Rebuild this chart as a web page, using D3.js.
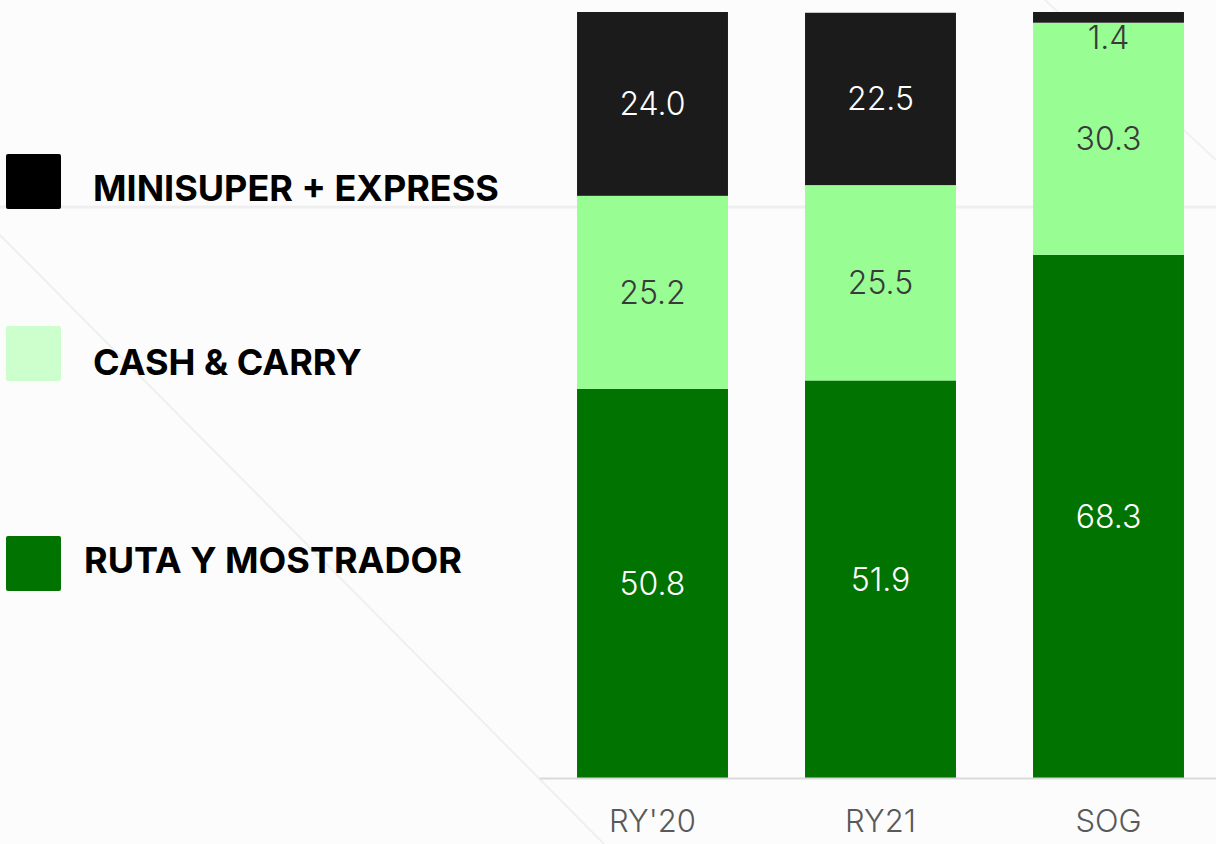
<!DOCTYPE html>
<html>
<head>
<meta charset="utf-8">
<script src="https://cdn.jsdelivr.net/npm/d3@7"></script>
<style>
  html, body { margin: 0; padding: 0; background: #fcfcfc; }
  svg { display: block; }
</style>
</head>
<body>
<svg id="chart" width="1216" height="844"></svg>
<script>
const categories = ["RY'20", "RY21", "SOG"];
const seriesNames = ["RUTA Y MOSTRADOR", "CASH & CARRY", "MINISUPER + EXPRESS"];
const rutaValues = [50.8, 51.9, 68.3];
const cashValues = [25.2, 25.5, 30.3];
const miniValues = [24.0, 22.5, 1.4];
const barColors = ["#007300", "#98fe93", "#1b1b1b"];
const legendColors = ["#007300", "#ccffcc", "#000000"];
const labelColors = ["#ffffff", "#3a3a3a", "#ffffff"];

const svg = d3.select("#chart");
const W = 1216, H = 844;

// faint background decorations
const deco = svg.append("g");
deco.append("line").attr("x1", 0).attr("y1", 207).attr("x2", W).attr("y2", 207)
  .attr("stroke", "#efefef").attr("stroke-width", 3);
deco.append("line").attr("x1", 0).attr("y1", 235).attr("x2", 610).attr("y2", 850)
  .attr("stroke", "#efefef").attr("stroke-width", 2);
deco.append("line").attr("x1", 1045).attr("y1", 0).attr("x2", 1216).attr("y2", 160)
  .attr("stroke", "#f0f0f0").attr("stroke-width", 2);

const x = d3.scaleBand().domain(categories).range([538.5, 1222.5])
  .paddingInner(0.338).paddingOuter(0.169);
const y = d3.scaleLinear().domain([0, 100]).range([778, 12]);

const rows = categories.map((c, i) => ({ cat: c, s0: rutaValues[i], s1: cashValues[i], s2: miniValues[i] }));
const stack = d3.stack().keys(["s0", "s1", "s2"]);
const stacked = stack(rows);

const g = svg.append("g");
stacked.forEach((layer, li) => {
  g.selectAll(null).data(layer).enter().append("rect")
    .attr("x", d => x(d.data.cat))
    .attr("width", x.bandwidth())
    .attr("y", d => y(d[1]))
    .attr("height", d => y(d[0]) - y(d[1]))
    .attr("fill", barColors[li]);
});

// axis
const xAxis = d3.axisBottom(x).tickSize(0).tickPadding(0);
const ax = svg.append("g").attr("transform", "translate(0,778)").call(xAxis);
ax.select(".domain").attr("d", "M540,0.5H1216").attr("stroke", "#d9d9d9").attr("stroke-width", 2);
ax.selectAll("text")
  .attr("dy", null).attr("y", 54)
  .attr("font-family", "Inter, 'Noto Sans', sans-serif")
  .attr("font-size", 31).attr("font-weight", 300).attr("fill", "#595959");

// value labels
stacked.forEach((layer, li) => {
  g.selectAll(null).data(layer).enter().append("text")
    .attr("x", d => x(d.data.cat) + x.bandwidth() / 2)
    .attr("y", d => {
      const h = y(d[0]) - y(d[1]);
      if (h < 30) return y(d[0]) + 15;
      return (y(d[0]) + y(d[1])) / 2;
    })
    .attr("dy", "0.36em")
    .attr("text-anchor", "middle")
    .attr("font-family", "Inter, 'Noto Sans', sans-serif")
    .attr("font-size", 32).attr("font-weight", 300)
    .attr("fill", d => (y(d[0]) - y(d[1]) < 30) ? "#3a3a3a" : labelColors[li])
    .text(d => (d[1] - d[0]).toFixed(1));
});

// legend
const legendY = [563, 353, 181];
const legendTextY = [560, 362, 188];
const legendTextX = [84, 93, 93];
const leg = svg.append("g");
seriesNames.forEach((name, i) => {
  leg.append("rect").attr("x", 6).attr("y", legendY[i] - 27).attr("width", 55).attr("height", 55)
    .attr("rx", 2).attr("fill", legendColors[i]);
  leg.append("text").attr("x", legendTextX[i]).attr("y", legendTextY[i])
    .attr("dy", "0.36em")
    .attr("font-family", "Inter, 'Noto Sans', sans-serif")
    .attr("font-size", 36).attr("font-weight", 700).attr("fill", "#000")
    .text(name);
});
</script>
</body>
</html>
